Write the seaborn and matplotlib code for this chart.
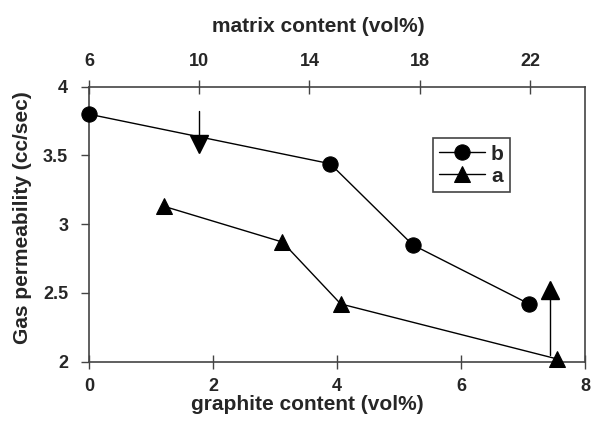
import matplotlib
matplotlib.use("Agg")
import matplotlib.pyplot as plt
import seaborn as sns
import pandas as pd

# Series b (circles)
graphite_b = [0.0, 3.89, 5.22, 7.10]
perm_b = [3.80, 3.44, 2.85, 2.42]

# Series a (triangles)
graphite_a = [1.21, 3.12, 4.06, 7.55]
perm_a = [3.13, 2.87, 2.42, 2.02]

# Arrows marking shifts (x, y_start, y_end)
arrow_down = (1.78, 3.82, 3.58)
arrow_up = (7.43, 2.05, 2.52)

top_ticks = [6, 10, 14, 18, 22]
bottom_ticks = [0, 2, 4, 6, 8]
left_ticks = [2, 2.5, 3, 3.5, 4]
left_labels = ["2", "2.5", "3", "3.5", "4"]

sns.set_theme(style="white")
plt.rcParams["font.family"] = ["Liberation Sans", "DejaVu Sans"]
plt.rcParams["font.weight"] = "bold"

W, H = 604, 423
fig = plt.figure(figsize=(W / 100, H / 100), dpi=100)
ax = fig.add_axes([89 / W, 1 - 361.7 / H, 496 / W, 275 / H])

df_b = pd.DataFrame({"g": graphite_b, "p": perm_b})
df_a = pd.DataFrame({"g": graphite_a, "p": perm_a})

sns.lineplot(data=df_b, x="g", y="p", ax=ax, color="black", lw=1.0,
             marker="o", markersize=11, markeredgecolor="black",
             sort=False, label="b", clip_on=False, zorder=3)
sns.lineplot(data=df_a, x="g", y="p", ax=ax, color="black", lw=1.0,
             marker="^", markersize=11, markeredgecolor="black",
             sort=False, label="a", clip_on=False, zorder=3)

# Arrow shafts with triangular heads
for (x, y0, y1), head in ((arrow_down, "v"), (arrow_up, "^")):
    ax.plot([x, x], [y0, y1], color="black", lw=1.0, zorder=2)
    ax.plot([x], [y1], marker=head, markersize=13, color="black", zorder=3)

ax.set_xlim(0, 8)
ax.set_ylim(2, 4)
ax.set_xticks(bottom_ticks)
ax.set_yticks(left_ticks)
ax.set_yticklabels(left_labels)
ax.set_xlabel("")
ax.set_ylabel("")

for s in ax.spines.values():
    s.set_color("#444444")
    s.set_linewidth(1.2)

ax.tick_params(axis="x", direction="inout", length=10, width=1.0,
               color="#444444", labelsize=13, pad=7, bottom=True)
ax.tick_params(axis="y", direction="out", length=6, width=1.0,
               color="#444444", labelsize=13, pad=9, left=True)

top = ax.secondary_xaxis("top", functions=(lambda g: 6 + 2.25 * g,
                                           lambda m: (m - 6) / 2.25))
top.set_xticks(top_ticks)
top.tick_params(direction="inout", length=10, width=1.0, color="#444444",
                labelsize=13, pad=7)
top.spines["top"].set_visible(False)

for lab in ax.get_xticklabels() + ax.get_yticklabels() + top.get_xticklabels():
    lab.set_fontweight("bold")

fig.text(307 / W, 1 - 404 / H, "graphite content (vol%)", fontsize=15,
         fontweight="bold", ha="center", va="center")
fig.text(318 / W, 1 - 26 / H, "matrix content (vol%)", fontsize=15,
         fontweight="bold", ha="center", va="center")
fig.text(23 / W, 1 - 218 / H, "Gas permeability (cc/sec)", fontsize=15,
         fontweight="bold", ha="center", va="center", rotation=90)

leg = ax.legend(loc="upper left",
                bbox_to_anchor=((432.7 - 89) / 496, (361.7 - 138.3) / 275),
                frameon=True, fancybox=False, framealpha=1, edgecolor="#444444",
                fontsize=15, handlelength=2.2, handletextpad=0.3,
                borderpad=0.3, labelspacing=0.15, borderaxespad=0)
leg.get_frame().set_linewidth(1.2)
for t in leg.get_texts():
    t.set_fontweight("bold")

fig.savefig("out.png", dpi=100)
